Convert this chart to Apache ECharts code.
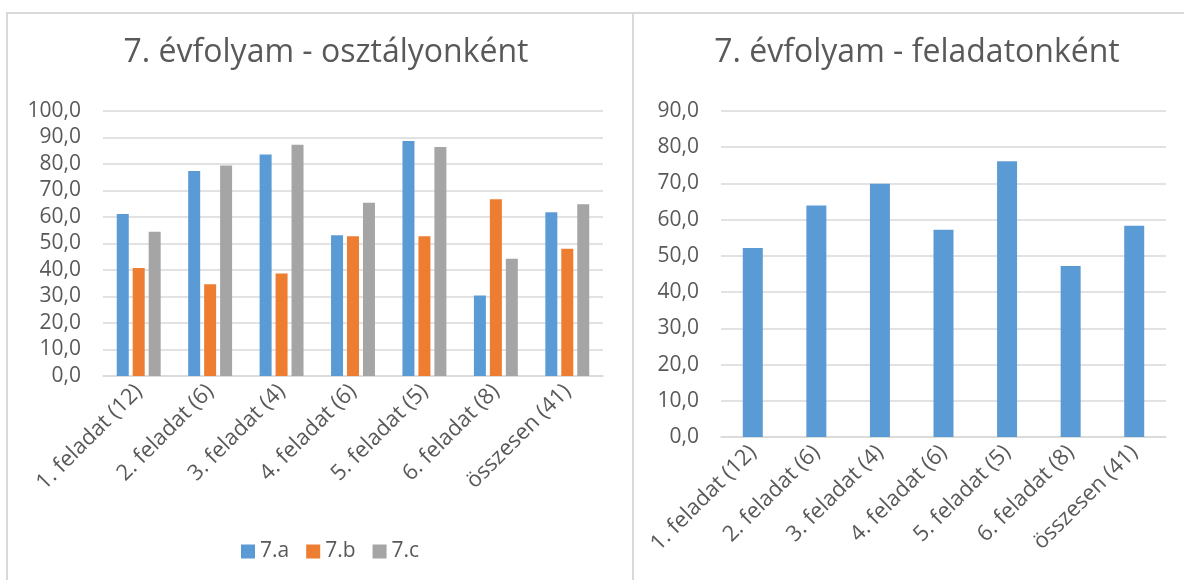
<!DOCTYPE html>
<html>
<head>
<meta charset="utf-8">
<script src="https://cdn.jsdelivr.net/npm/echarts@6/dist/echarts.min.js"></script>
<style>
  html, body { margin: 0; padding: 0; background: #fff; width: 1184px; height: 580px; overflow: hidden; }
  .frame { position: absolute; top: 12px; height: 620px; border: 2px solid #d9d9d9; box-sizing: border-box; }
  #frameLeft { left: 6px; width: 628px; }
  #frameRight { left: 632px; width: 600px; }
  .chart { position: absolute; top: 0; height: 580px; }
  #chartLeft { left: 0; width: 632px; }
  #chartRight { left: 632px; width: 552px; }
</style>
</head>
<body>
<div class="frame" id="frameLeft"></div>
<div class="frame" id="frameRight"></div>
<div class="chart" id="chartLeft"></div>
<div class="chart" id="chartRight"></div>
<script>
const categories = ['1. feladat (12)', '2. feladat (6)', '3. feladat (4)', '4. feladat (6)', '5. feladat (5)', '6. feladat (8)', 'összesen (41)']
const classNames = ['7.a', '7.b', '7.c']
const class7a = [61.1, 77.4, 83.6, 53.1, 88.7, 30.4, 61.8]
const class7b = [40.8, 34.6, 38.7, 52.7, 52.7, 66.7, 48.0]
const class7c = [54.4, 79.4, 87.3, 65.4, 86.4, 44.2, 64.8]
const gradeTotal = [52.2, 63.9, 69.9, 57.2, 76.1, 47.2, 58.3]

const textColor = '#595959'
const gridColor = '#d9d9d9'
const colors = ['#5b9bd5', '#ed7d31', '#a5a5a5']
const font = '"Open Sans", sans-serif'

const fmt = v => v.toFixed(1).replace('.', ',')

function xAxisCfg() {
  return {
    type: 'category',
    data: categories,
    axisLine: { lineStyle: { color: gridColor, width: 1.5 } },
    axisTick: { show: false },
    axisLabel: { rotate: 45, margin: 12, color: textColor, fontSize: 22, fontFamily: font, interval: 0 }
  }
}

function yAxisCfg(max) {
  return {
    type: 'value',
    min: 0,
    max: max,
    interval: 10,
    axisLine: { show: false },
    axisTick: { show: false },
    axisLabel: { margin: 22, color: textColor, fontSize: 21, fontFamily: font, formatter: fmt },
    splitLine: { lineStyle: { color: gridColor, width: 1.5 } }
  }
}

const left = echarts.init(document.getElementById('chartLeft'))
left.setOption({
  animation: false,
  color: colors,
  title: {
    text: '7. évfolyam - osztályonként',
    left: 321,
    textAlign: 'center',
    top: 32,
    textStyle: { color: textColor, fontSize: 32, fontWeight: 'normal', fontFamily: font }
  },
  legend: {
    data: classNames,
    left: 236,
    top: 536,
    itemWidth: 14,
    itemHeight: 14,
    itemGap: 17,
    icon: 'rect',
    textStyle: { color: textColor, fontSize: 21, fontFamily: font }
  },
  grid: { left: 103, top: 111, width: 500, height: 265 },
  xAxis: xAxisCfg(),
  yAxis: yAxisCfg(100),
  series: [
    { name: classNames[0], type: 'bar', data: class7a, barWidth: 12, barGap: '33%' },
    { name: classNames[1], type: 'bar', data: class7b, barWidth: 12, barGap: '33%' },
    { name: classNames[2], type: 'bar', data: class7c, barWidth: 12, barGap: '33%' }
  ]
})

const right = echarts.init(document.getElementById('chartRight'))
right.setOption({
  animation: false,
  color: colors,
  title: {
    text: '7. évfolyam - feladatonként',
    left: 280,
    textAlign: 'center',
    top: 32,
    textStyle: { color: textColor, fontSize: 32, fontWeight: 'normal', fontFamily: font }
  },
  grid: { left: 89, top: 111, width: 445, height: 326 },
  xAxis: xAxisCfg(),
  yAxis: yAxisCfg(90),
  series: [
    { name: '7. évfolyam', type: 'bar', data: gradeTotal, barWidth: 20 }
  ]
})
</script>
</body>
</html>
